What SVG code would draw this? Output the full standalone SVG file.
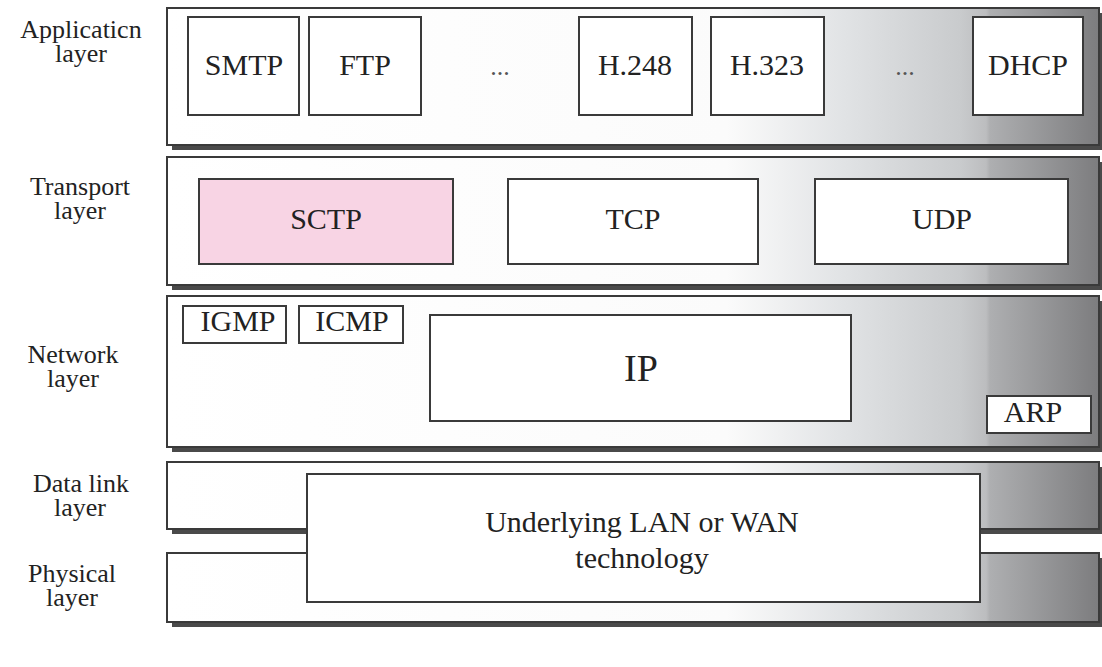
<svg xmlns="http://www.w3.org/2000/svg" width="1102" height="667" viewBox="0 0 1102 667">
<defs>
<linearGradient id="shade" gradientUnits="userSpaceOnUse" x1="167" y1="0" x2="1100" y2="0">
<stop offset="0" stop-color="#ffffff"/>
<stop offset="0.6" stop-color="#fbfbfb"/>
<stop offset="0.72" stop-color="#e2e4e6"/>
<stop offset="0.85" stop-color="#c9cbcd"/>
<stop offset="0.878" stop-color="#bcbdbf"/>
<stop offset="0.882" stop-color="#aeafb1"/>
<stop offset="1" stop-color="#7c7c7e"/>
</linearGradient>
</defs>
<style>
.layer{fill:url(#shade);stroke:#3a3a3a;stroke-width:2}
.shadow{fill:#4a4a4a}
.box{fill:#ffffff;stroke:#3a3a3a;stroke-width:2}
.pink{fill:#f8d4e4;stroke:#3a3a3a;stroke-width:2}
.t{font-family:"Liberation Serif","Times New Roman",serif;font-size:30px;fill:#222;text-anchor:middle}
.lbl{font-family:"Liberation Serif","Times New Roman",serif;font-size:26px;fill:#222;text-anchor:middle}
.dots{font-family:"Liberation Serif","Times New Roman",serif;font-size:26px;fill:#555;text-anchor:middle}
</style>
<rect width="1102" height="667" fill="#ffffff"/>

<g id="labels">
<text class="lbl" x="81" y="38">Applicaticn</text>
<text class="lbl" x="81" y="62">layer</text>
<text class="lbl" x="80" y="195">Transport</text>
<text class="lbl" x="80" y="219">layer</text>
<text class="lbl" x="73" y="363">Network</text>
<text class="lbl" x="73" y="387">layer</text>
<text class="lbl" x="81" y="492">Data link</text>
<text class="lbl" x="80" y="516">layer</text>
<text class="lbl" x="72" y="582">Physical</text>
<text class="lbl" x="72" y="606">layer</text>
</g>

<g id="application-layer">
<rect class="shadow" x="172" y="13" width="932" height="137"/>
<rect class="layer" x="167" y="8" width="932" height="137"/>
</g>
<g id="smtp"><rect class="box" x="188" y="17" width="111" height="98"/><text class="t" x="244" y="75">SMTP</text></g>
<g id="ftp"><rect class="box" x="309" y="17" width="112" height="98"/><text class="t" x="365" y="75">FTP</text></g>
<g id="dots1"><text class="dots" x="500" y="75">...</text></g>
<g id="h248"><rect class="box" x="579" y="17" width="113" height="98"/><text class="t" x="635" y="75">H.248</text></g>
<g id="h323"><rect class="box" x="711" y="17" width="113" height="98"/><text class="t" x="767" y="75">H.323</text></g>
<g id="dots2"><text class="dots" x="905" y="75">...</text></g>
<g id="dhcp"><rect class="box" x="973" y="17" width="110" height="98"/><text class="t" x="1028" y="75">DHCP</text></g>

<g id="transport-layer">
<rect class="shadow" x="172" y="162" width="932" height="128"/>
<rect class="layer" x="167" y="157" width="932" height="128"/>
</g>
<g id="sctp"><rect class="pink" x="199" y="179" width="254" height="85"/><text class="t" x="326" y="229">SCTP</text></g>
<g id="tcp"><rect class="box" x="508" y="179" width="250" height="85"/><text class="t" x="633" y="229">TCP</text></g>
<g id="udp"><rect class="box" x="815" y="179" width="253" height="85"/><text class="t" x="942" y="229">UDP</text></g>

<g id="network-layer">
<rect class="shadow" x="172" y="301" width="932" height="151"/>
<rect class="layer" x="167" y="296" width="932" height="151"/>
</g>
<g id="igmp"><rect class="box" x="183" y="306" width="103" height="37"/><text class="t" x="238" y="331">IGMP</text></g>
<g id="icmp"><rect class="box" x="299" y="306" width="104" height="37"/><text class="t" x="352" y="331">ICMP</text></g>
<g id="ip"><rect class="box" x="430" y="315" width="421" height="106"/><text class="t" x="641" y="381" style="font-size:38px">IP</text></g>
<g id="arp"><rect class="box" x="987" y="396" width="104" height="37"/><text class="t" x="1033" y="422">ARP</text></g>

<g id="datalink-layer">
<rect class="shadow" x="172" y="467" width="932" height="67"/>
<rect class="layer" x="167" y="462" width="932" height="67"/>
</g>
<g id="physical-layer">
<rect class="shadow" x="172" y="558" width="932" height="69"/>
<rect class="layer" x="167" y="553" width="932" height="69"/>
</g>
<g id="underlying"><rect class="box" x="307" y="474" width="673" height="128"/>
<text class="t" x="642" y="532">Underlying LAN or WAN</text>
<text class="t" x="642" y="568">technology</text></g>

<g id="connectors"></g>
</svg>
